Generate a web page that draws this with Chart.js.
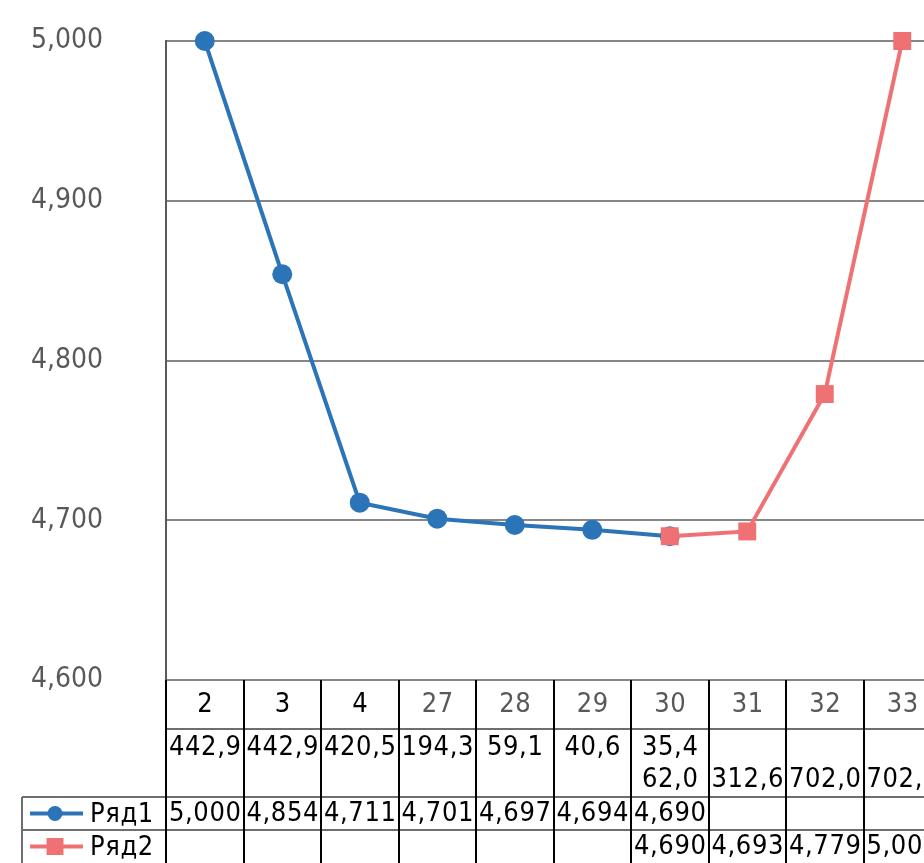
<!DOCTYPE html>
<html lang="ru">
<head>
<meta charset="utf-8">
<title>Ряд1 / Ряд2</title>
<script src="https://cdn.jsdelivr.net/npm/chart.js@4.4.1/dist/chart.umd.min.js"></script>
<style>
  html, body { margin: 0; padding: 0; background: #ffffff; overflow: hidden; }
  #wrap { width: 924px; height: 863px; overflow: hidden; }
  canvas { display: block; }
</style>
</head>
<body>
<div id="wrap"><canvas id="chart" width="1000" height="863"></canvas></div>
<script>
// Categories (first label row) and the second label row under them
const categories = ['2', '3', '4', '27', '28', '29', '30', '31', '32', '33'];
const subLabels = [
  ['442,9'], ['442,9'], ['420,5'], ['194,3'], ['59,1'], ['40,6'],
  ['35,4', '62,0'], ['', '312,6'], ['', '702,0'], ['', '702,0']
];
// Series values
const seriesNames = ['Ряд1', 'Ряд2'];
const ryad1 = [5.000, 4.854, 4.711, 4.701, 4.697, 4.694, 4.690, null, null, null];
const ryad2 = [null, null, null, null, null, null, 4.690, 4.693, 4.779, 5.000];
// Value axis
const yMin = 4.6;
const yMax = 5.0;
const yStep = 0.1;

const BLUE = '#2C74B8';
const RED = '#F07174';
const GREY_TEXT = '#595959';
const FONT = "'DejaVu Sans Condensed', 'DejaVu Sans', sans-serif";
// the first three category labels are printed in black, the rest in grey
const categoryInk = categories.map((c, i) => (i < 3 ? '#000000' : GREY_TEXT));

const fmt = v => (v == null ? '' : v.toFixed(3).replace('.', ','));

// Data table under the plot: category rows, series rows with legend keys
const dataTable = {
  id: 'dataTable',
  afterDraw(chart) {
    const { ctx, chartArea: area, scales: { x } } = chart;
    const n = categories.length;
    const colW = x.getPixelForValue(1) - x.getPixelForValue(0);
    const top = area.bottom;
    const r1 = top + 49;      // end of category row
    const r2 = top + 117;     // end of second label row
    const r3 = top + 150;     // end of Ряд1 row
    const r4 = top + 190;     // end of Ряд2 row (below the visible page)
    const keyLeft = 22;

    ctx.save();
    // horizontal rules
    ctx.strokeStyle = '#6e6e6e';
    ctx.lineWidth = 2;
    ctx.beginPath();
    ctx.moveTo(area.left, r1); ctx.lineTo(area.right, r1);
    ctx.moveTo(keyLeft, r2); ctx.lineTo(area.right, r2);
    ctx.moveTo(keyLeft, r3); ctx.lineTo(area.right, r3);
    ctx.moveTo(keyLeft, r2); ctx.lineTo(keyLeft, r4);
    ctx.stroke();

    // vertical rules between the columns
    ctx.strokeStyle = '#000000';
    ctx.beginPath();
    for (let i = 0; i <= n; i++) {
      const px = Math.round(x.getPixelForValue(i) - colW / 2);
      ctx.moveTo(px, top); ctx.lineTo(px, r4);
    }
    ctx.stroke();

    ctx.textAlign = 'center';
    ctx.textBaseline = 'middle';
    if ('letterSpacing' in ctx) ctx.letterSpacing = '0.6px';
    ctx.font = `27px ${FONT}`;

    categories.forEach((c, i) => {
      const cx = x.getPixelForValue(i) + 0.5;
      ctx.fillStyle = categoryInk[i];
      ctx.fillText(c, cx, top + 24.5);
      ctx.fillStyle = '#000000';
      const lines = subLabels[i];
      if (lines[0]) ctx.fillText(lines[0], cx, r1 + 19);
      if (lines[1]) ctx.fillText(lines[1], cx, r1 + 51);
      ctx.fillText(fmt(ryad1[i]), cx, r2 + 17);
      ctx.fillText(fmt(ryad2[i]), cx, r3 + 17);
    });

    // legend keys
    const keys = [
      { name: seriesNames[0], color: BLUE, style: 'circle', radius: 7.5, y: r2 + 16.5 },
      { name: seriesNames[1], color: RED, style: 'rect', radius: 12, y: r3 + 16.5 }
    ];
    keys.forEach(k => {
      ctx.strokeStyle = k.color;
      ctx.lineWidth = 4;
      ctx.beginPath();
      ctx.moveTo(30, k.y); ctx.lineTo(83, k.y);
      ctx.stroke();
      ctx.fillStyle = k.color;
      Chart.helpers.drawPoint(ctx, { pointStyle: k.style, radius: k.radius, borderWidth: 0 }, 55, k.y);
      ctx.fillStyle = '#000000';
      ctx.textAlign = 'left';
      ctx.fillText(k.name, 90, k.y + 1);
    });
    ctx.restore();
  }
};

new Chart(document.getElementById('chart'), {
  type: 'line',
  data: {
    labels: categories,
    datasets: [
      {
        label: seriesNames[0],
        data: ryad1,
        borderColor: BLUE,
        backgroundColor: BLUE,
        borderWidth: 4,
        pointStyle: 'circle',
        pointRadius: 10,
        pointBorderWidth: 0,
        clip: false,
        order: 1
      },
      {
        label: seriesNames[1],
        data: ryad2,
        borderColor: RED,
        backgroundColor: RED,
        borderWidth: 4,
        pointStyle: 'rect',
        pointRadius: 12.7,
        pointBorderWidth: 0,
        clip: false,
        order: 0
      }
    ]
  },
  options: {
    responsive: false,
    animation: false,
    events: [],
    layout: { padding: { top: 41, right: 59, bottom: 183, left: 31 } },
    plugins: { legend: { display: false }, tooltip: { enabled: false } },
    scales: {
      x: {
        type: 'category',
        offset: true,
        display: false
      },
      y: {
        min: yMin,
        max: yMax,
        afterFit(scale) { scale.width = 135; },
        ticks: {
          stepSize: yStep,
          color: GREY_TEXT,
          font: { family: FONT, size: 28 },
          crossAlign: 'far',
          padding: 3,
          callback: v => fmt(v)
        },
        grid: { color: '#868686', lineWidth: 2, drawTicks: false },
        border: { color: '#595959', width: 2 }
      }
    }
  },
  plugins: [dataTable]
});
</script>
</body>
</html>
